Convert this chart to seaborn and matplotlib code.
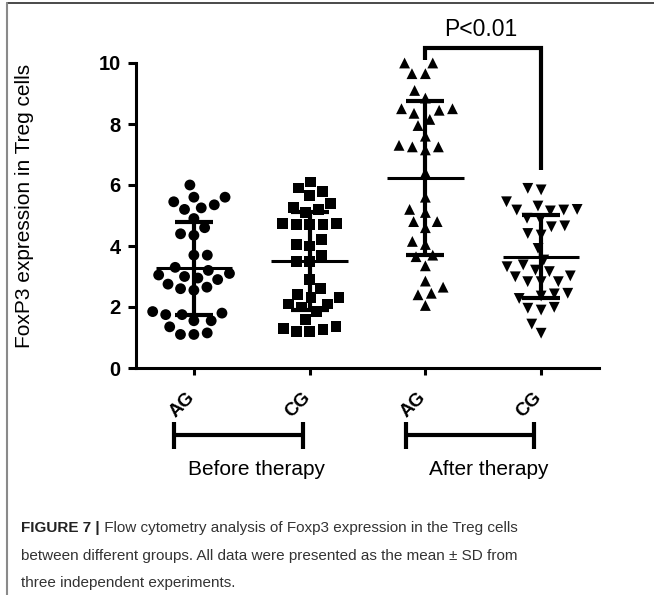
import numpy as np
import pandas as pd
import matplotlib
matplotlib.use("Agg")
import matplotlib.pyplot as plt
import seaborn as sns
from matplotlib.lines import Line2D
from matplotlib.transforms import ScaledTranslation

# ---------------- data ----------------
groups = ["Before AG", "Before CG", "After AG", "After CG"]
tick_labels = ["AG", "CG", "AG", "CG"]
therapy_labels = ["Before therapy", "After therapy"]
y_label = "FoxP3 expression in Treg cells"
p_label = "P<0.01"
y_ticks = [0, 2, 4, 6, 8, 10]

before_ag = [6.0, 5.6, 5.6, 5.45, 5.35, 5.25, 5.2, 4.9, 4.6, 4.4, 4.35, 3.7,
             3.7, 3.3, 3.0, 2.9, 3.1, 3.05, 3.2, 2.95, 2.65, 2.55, 2.6, 2.75,
             1.85, 1.75, 1.75, 1.8, 1.55, 1.55, 1.35, 1.15, 1.1, 1.1]
before_cg = [6.1, 5.9, 5.8, 5.65, 5.4, 5.25, 5.2, 5.1, 4.75, 4.7, 4.7, 4.7,
             4.75, 4.2, 4.05, 4.0, 3.7, 3.5, 3.5, 2.9, 2.6, 2.3, 2.4, 2.3,
             2.1, 2.1, 1.85, 2.0, 1.6, 1.35, 1.25, 1.2, 1.2, 1.3]
after_ag = [10.0, 10.0, 9.65, 9.65, 9.1, 8.85, 8.35, 8.5, 8.45, 8.5, 8.15, 7.95,
            7.6, 7.3, 7.25, 7.15, 7.25, 6.4, 5.6, 5.2, 5.1, 4.8, 4.8, 4.6,
            4.15, 4.05, 3.7, 3.65, 3.35, 2.85, 2.65, 2.45, 2.4, 2.05]
after_cg = [5.84, 5.89, 5.45, 5.31, 5.2, 5.18, 5.15, 5.18, 4.91, 4.87, 4.63, 4.66,
            4.36, 4.41, 3.92, 3.54, 3.38, 3.32, 3.21, 3.16, 2.99, 3.02, 2.83, 2.83,
            2.83, 2.43, 2.45, 2.28, 2.36, 1.96, 1.9, 1.99, 1.44, 1.14]

caption_bold = "FIGURE 7 |"
caption_lines = [
    " Flow cytometry analysis of Foxp3 expression in the Treg cells",
    "between different groups. All data were presented as the mean \u00b1 SD from",
    "three independent experiments.",
]

series = [before_ag, before_cg, after_ag, after_cg]
markers = ["o", "s", "^", "v"]

df = pd.DataFrame({
    "group": np.concatenate([[g] * len(v) for g, v in zip(groups, series)]),
    "value": np.concatenate(series),
})

# ---------------- style ----------------
sns.set_theme(style="white")
plt.rcParams["font.family"] = ["Liberation Sans", "DejaVu Sans"]

W, H = 654, 595
fig = plt.figure(figsize=(W / 100, H / 100), dpi=100)
fig.patch.set_facecolor("white")

x_left, x_right, y_bot, y_top = 136, 599, 368, 63
ax = fig.add_axes([x_left / W, 1 - y_bot / H, (x_right - x_left) / W, (y_bot - y_top) / H])
ax.set_facecolor("white")

for g, m in zip(groups, markers):
    sub = df[df["group"] == g]
    sns.swarmplot(data=sub, x="group", y="value", order=groups, marker=m,
                  color="black", size=7.8, linewidth=1.4, edgecolor="none",
                  ax=ax, zorder=3)
for coll in list(ax.collections):
    if len(coll.get_offsets()) == 0:
        coll.remove()
    else:
        coll.set_clip_on(False)

ax.set_xlim(-0.5, 3.5)
ax.set_ylim(0, 10)

# mean +/- SD
summary = df.groupby("group", sort=False)["value"].agg(["mean", "std"]).reindex(groups)
for i, g in enumerate(groups):
    m, s = summary.loc[g, "mean"], summary.loc[g, "std"]
    ax.plot([i - 0.33, i + 0.33], [m, m], color="black", lw=2.2, zorder=5,
            solid_capstyle="butt", clip_on=False)
    ax.plot([i, i], [m - s, m + s], color="black", lw=3.0, zorder=5,
            solid_capstyle="butt", clip_on=False)
    for yy in (m - s, m + s):
        ax.plot([i - 0.165, i + 0.165], [yy, yy], color="black", lw=3.0,
                zorder=5, solid_capstyle="butt", clip_on=False)

# axes styling
for sp in ["top", "right"]:
    ax.spines[sp].set_visible(False)
for sp in ["left", "bottom"]:
    ax.spines[sp].set_linewidth(2.2)
    ax.spines[sp].set_color("black")

ax.set_yticks(y_ticks)
ax.set_yticklabels([str(t) for t in y_ticks], fontsize=14.5, fontweight="bold",
                   color="black")
ax.set_xticks(range(len(groups)))
ax.set_xticklabels(tick_labels, rotation=45, ha="right", va="top",
                   fontsize=13.5, fontweight="bold", color="black")
ax.tick_params(axis="y", left=True, direction="out", length=6, width=2.2,
               pad=5, color="black")
ax.tick_params(axis="x", bottom=True, direction="out", length=5, width=2.2,
               pad=10, color="black")
for lbl in ax.get_xticklabels():
    lbl.set_transform(lbl.get_transform() + ScaledTranslation(4 / 100, 0, fig.dpi_scale_trans))
ax.set_xlabel("")
ax.set_ylabel(y_label, fontsize=15, color="black", va="center")
ax.yaxis.set_label_coords((25 - x_left) / (x_right - x_left),
                          (y_bot - 206) / (y_bot - y_top))

# group brackets below axis
for k, lab in enumerate(therapy_labels):
    a, b = 2 * k, 2 * k + 1
    x0, x1 = a - 0.17, b - 0.06
    yb = -2.19
    ax.plot([x0, x1], [yb, yb], color="black", lw=3.0, clip_on=False,
            solid_capstyle="butt")
    for xx in (x0, x1):
        ax.plot([xx, xx], [yb + 0.43, yb - 0.46], color="black", lw=3.0,
                clip_on=False, solid_capstyle="butt")
    ax.text((x0 + x1) / 2 + 0.16, -3.34, lab, ha="center", va="center",
            fontsize=15, color="black")

# significance bracket
ax.plot([2, 2, 3, 3], [10.1, 10.49, 10.49, 6.49], color="black", lw=3.0,
        clip_on=False, solid_joinstyle="miter", solid_capstyle="butt")
ax.text(2.48, 11.11, p_label, ha="center", va="center", fontsize=16.5,
        color="black")

# page frame lines
fig.add_artist(Line2D([7 / W, 1], [1 - 3 / H, 1 - 3 / H], color="#3a3a3a",
                      lw=1.3, transform=fig.transFigure))
fig.add_artist(Line2D([7 / W, 7 / W], [0, 1 - 3 / H], color="#8a8a8a",
                      lw=1.5, transform=fig.transFigure))

# caption
cap_fam = ["Liberation Sans", "DejaVu Sans"]
cx = 21
baselines = [532, 560, 587]
fs = 12.0
t_bold = fig.text(cx / W, 1 - baselines[0] / H, caption_bold, fontsize=fs,
                  fontweight="bold", color="#222222", family=cap_fam,
                  va="baseline", ha="left")
t_rest = [fig.text(cx / W, 1 - bl / H, ln, fontsize=fs, color="#333333",
                   family=cap_fam, va="baseline", ha="left")
          for ln, bl in zip(caption_lines, baselines)]
fig.canvas.draw()
r = fig.canvas.get_renderer()
w1 = t_bold.get_window_extent(r).width + t_rest[0].get_window_extent(r).width
scale = (518 - cx) / w1
fs2 = fs * scale
t_bold.set_fontsize(fs2)
for t in t_rest:
    t.set_fontsize(fs2)
fig.canvas.draw()
wb = t_bold.get_window_extent(r).width
t_rest[0].set_x((cx + wb) / W)

fig.savefig("out.png", dpi=100, facecolor="white")
